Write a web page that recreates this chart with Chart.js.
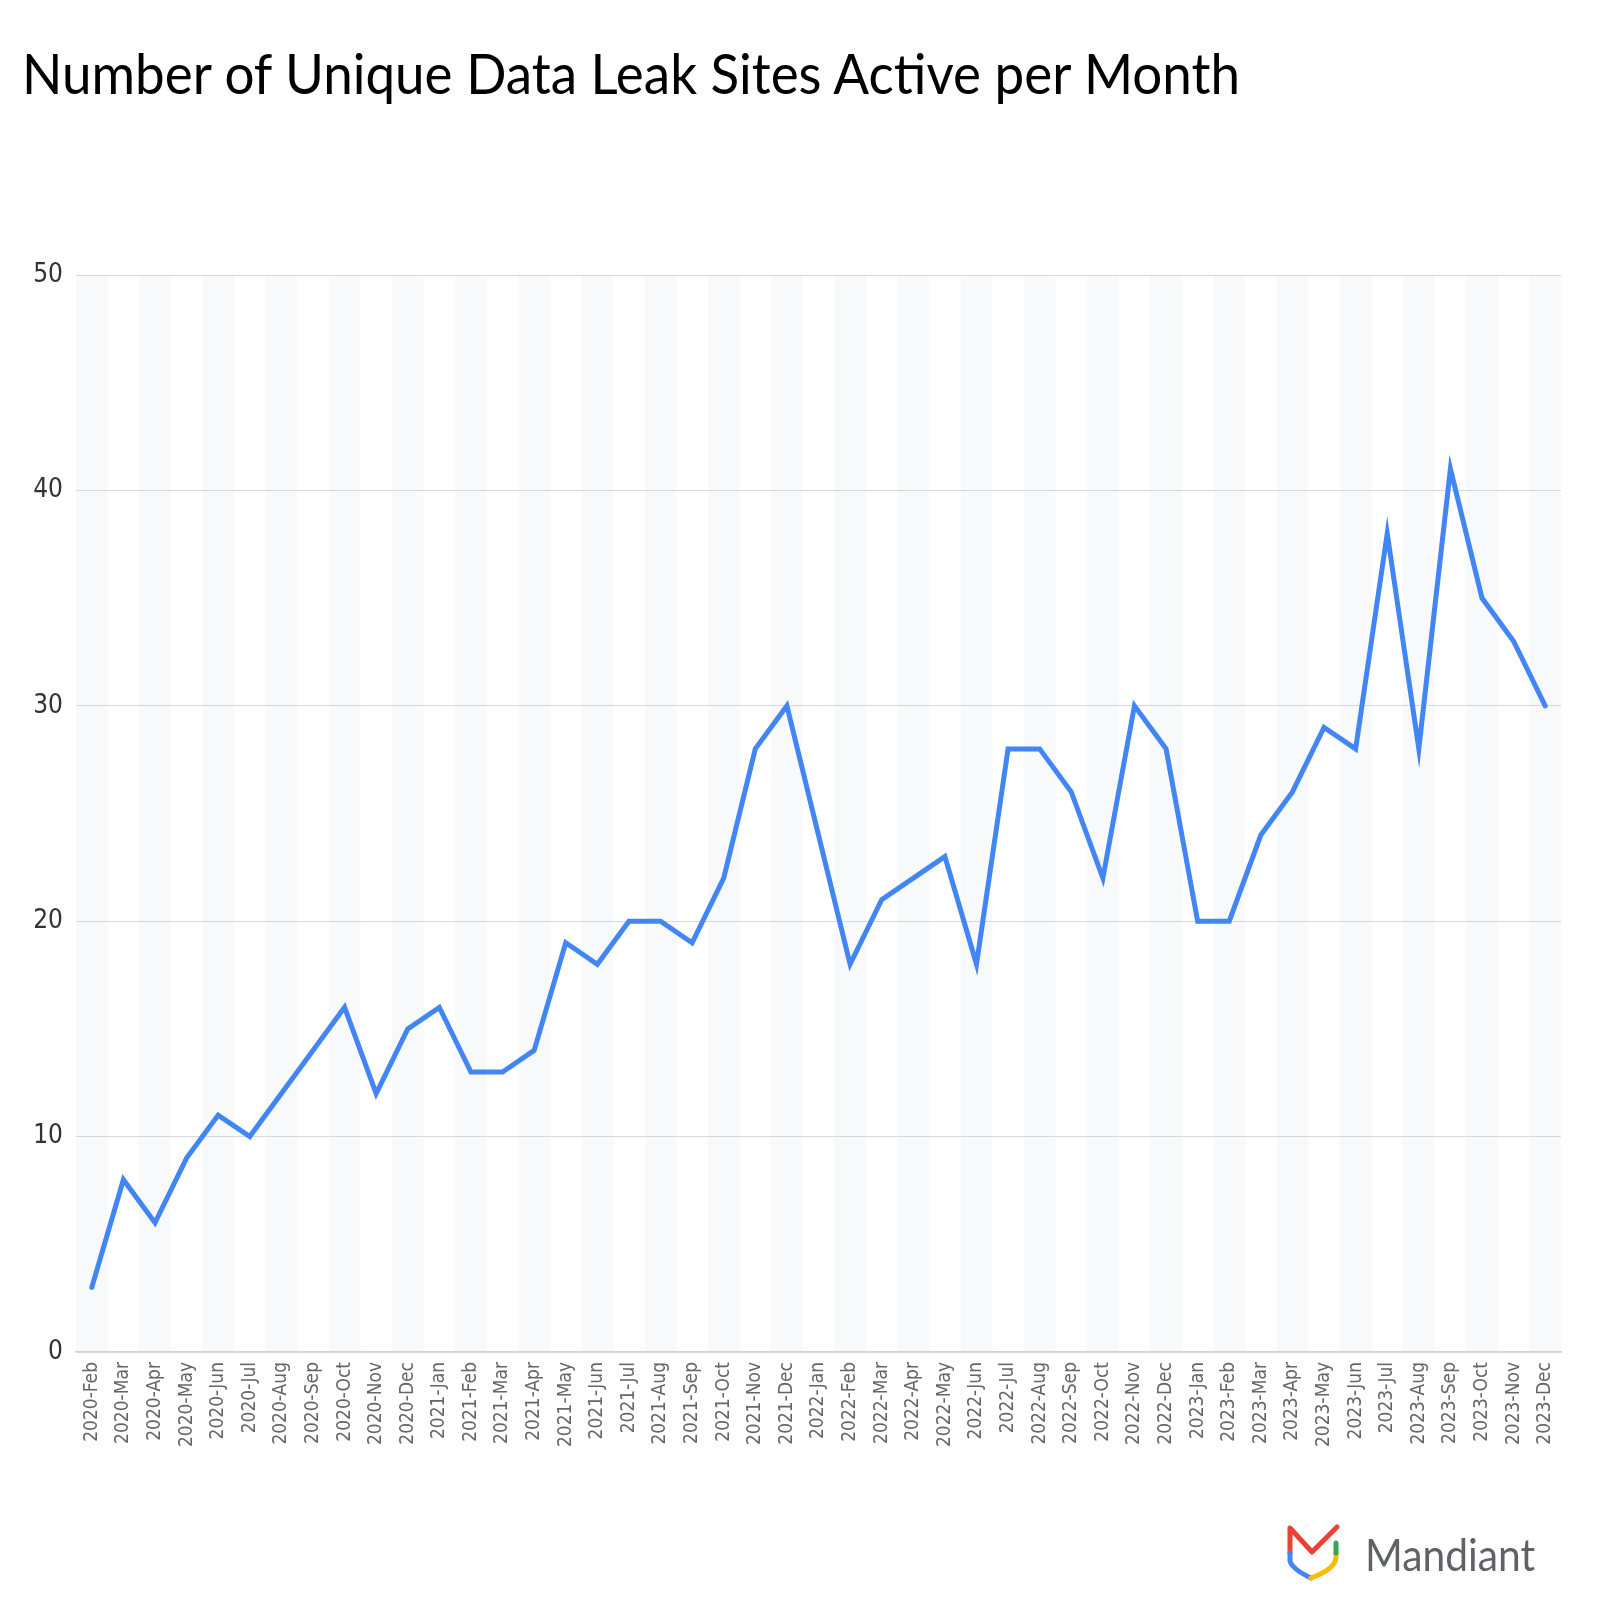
<!DOCTYPE html>
<html>
<head>
<meta charset="utf-8">
<script src="https://cdn.jsdelivr.net/npm/chart.js@4"></script>
<style>
  html, body { margin: 0; padding: 0; background: #fff; }
  #wrap { position: relative; width: 1598px; height: 1600px; }
  #chart { position: absolute; left: 0; top: 0; }
  #overlay { position: absolute; left: 0; top: 0; pointer-events: none; }
</style>
</head>
<body>
<div id="wrap">
  <canvas id="chart" width="1598" height="1600"></canvas>
  <svg id="overlay" width="1598" height="1600">
    <text x="22" y="94" font-family="Lato, 'Open Sans', sans-serif" font-size="56" fill="#000"
          textLength="1218" lengthAdjust="spacingAndGlyphs">Number of Unique Data Leak Sites Active per Month</text>
    <!-- Mandiant logo -->
    <g fill="none" stroke-width="5" stroke-linecap="round" stroke-linejoin="round">
      <polyline points="1290,1553 1290,1528 1312,1552 1337,1527" stroke="#ea4335"/>
      <path d="M1290,1553 L1290,1561 Q1292,1569 1311,1578" stroke="#4285f4"/>
      <path d="M1311,1578 Q1335,1569 1336,1558 L1336,1553" stroke="#fbbc04"/>
      <path d="M1336,1553 L1336,1543" stroke="#34a853"/>
    </g>
    <text x="1365" y="1571" font-family="Lato, 'Open Sans', sans-serif" font-size="44" fill="#5f6368"
          textLength="170" lengthAdjust="spacingAndGlyphs">Mandiant</text>
  </svg>
</div>
<script>
/* ── Data ───────────────────────────────────────────────────── */
const months = [
  '2020-Feb','2020-Mar','2020-Apr','2020-May','2020-Jun','2020-Jul','2020-Aug','2020-Sep','2020-Oct','2020-Nov','2020-Dec',
  '2021-Jan','2021-Feb','2021-Mar','2021-Apr','2021-May','2021-Jun','2021-Jul','2021-Aug','2021-Sep','2021-Oct','2021-Nov','2021-Dec',
  '2022-Jan','2022-Feb','2022-Mar','2022-Apr','2022-May','2022-Jun','2022-Jul','2022-Aug','2022-Sep','2022-Oct','2022-Nov','2022-Dec',
  '2023-Jan','2023-Feb','2023-Mar','2023-Apr','2023-May','2023-Jun','2023-Jul','2023-Aug','2023-Sep','2023-Oct','2023-Nov','2023-Dec'
];
const activeSites = [
  3, 8, 6, 9, 11, 10, 12, 14, 16, 12, 15,
  16, 13, 13, 14, 19, 18, 20, 20, 19, 22, 28, 30,
  24, 18, 21, 22, 23, 18, 28, 28, 26, 22, 30, 28,
  20, 20, 24, 26, 29, 28, 38, 28, 41, 35, 33, 30
];
const yTicks = [0, 10, 20, 30, 40, 50];

const tickFont = "'Liberation Sans Narrow', 'DejaVu Sans Condensed', Roboto, sans-serif";

/* ── Striped month background ───────────────────────────────── */
const stripes = {
  id: 'stripes',
  beforeDraw(chart) {
    const { ctx, chartArea: a, scales: { x } } = chart;
    ctx.save();
    ctx.fillStyle = '#ffffff';
    ctx.fillRect(0, 0, chart.width, chart.height);
    const w = (a.right - a.left) / months.length;
    ctx.fillStyle = '#f8f9fa';
    months.forEach((m, i) => {
      if (i % 2 === 0) {
        const cx = x.getPixelForValue(i);
        ctx.fillRect(cx - w / 2, a.top, w, a.bottom - a.top);
      }
    });
    ctx.restore();
  }
};

new Chart(document.getElementById('chart'), {
  type: 'line',
  data: {
    labels: months,
    datasets: [{
      data: activeSites,
      borderColor: '#4285f4',
      borderWidth: 5,
      borderCapStyle: 'round',
      pointRadius: 0,
      tension: 0,
      fill: false
    }]
  },
  options: {
    responsive: false,
    animation: false,
    layout: { padding: { top: 275, right: 37, left: 0, bottom: 0 } },
    plugins: { legend: { display: false }, tooltip: { enabled: false } },
    scales: {
      x: {
        offset: true,
        grid: { display: false, drawTicks: false },
        border: { display: true, color: '#cfd2d6', width: 1.5 },
        ticks: {
          autoSkip: false, maxRotation: 90, minRotation: 90, padding: 10,
          color: '#666', font: { family: tickFont, size: 19 }
        },
        afterFit: s => { s.height = 248; }
      },
      y: {
        min: 0, max: 50,
        afterBuildTicks: s => { s.ticks = yTicks.map(v => ({ value: v })); },
        grid: { color: '#d5d8dc', drawTicks: false, lineWidth: 1 },
        border: { display: false },
        ticks: {
          padding: 13, color: '#333',
          font: { family: tickFont, size: 26 }
        },
        afterFit: s => { s.width = 76; }
      }
    }
  },
  plugins: [stripes]
});
</script>
</body>
</html>
